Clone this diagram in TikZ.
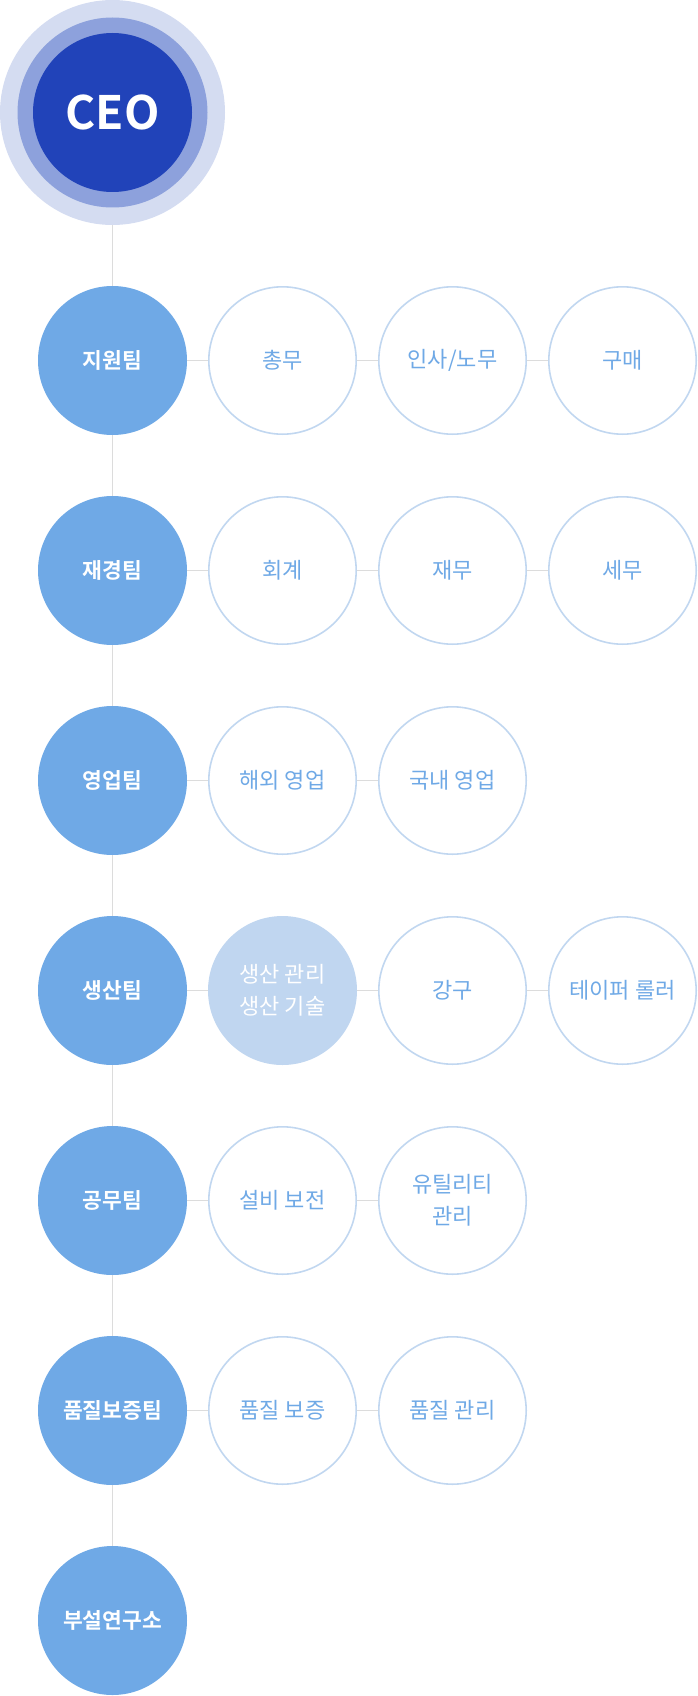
\documentclass[tikz,border=0pt]{standalone}
\usepackage{fontspec}
\setmainfont{Noto Sans CJK KR}
\newfontfamily\krbold{Noto Sans CJK KR Bold}
\definecolor{ringA}{HTML}{D4DCF1}
\definecolor{ringB}{HTML}{8DA1DC}
\definecolor{ceoblue}{HTML}{2143B9}
\definecolor{teamblue}{HTML}{6FA9E6}
\definecolor{subborder}{HTML}{C1D7F0}
\definecolor{subtext}{HTML}{6FA9E6}
\definecolor{hifill}{HTML}{C0D6F0}
\definecolor{linegray}{HTML}{DCDCDC}
\begin{document}
\begin{tikzpicture}[x=1pt,y=-1pt,
  team/.style={circle,fill=teamblue,minimum size=149pt,inner sep=0pt,text=white,font=\krbold\fontsize{21.5}{26}\selectfont,align=center},
  sub/.style={circle,draw=subborder,line width=1.6pt,fill=white,minimum size=147.4pt,inner sep=0pt,text=subtext,font=\fontsize{22}{32}\selectfont,align=center},
  subhi/.style={circle,fill=hifill,minimum size=149pt,inner sep=0pt,text=white,font=\fontsize{22}{32}\selectfont,align=center},
  conn/.style={draw=linegray,line width=1.8pt}]
\useasboundingbox (0,0) rectangle (698,1696);
% CEO
\node[circle,fill=ringA,minimum size=225pt,inner sep=0pt] (ceoring) at (112.5,112.5) {};
\fill[ringB] (112.5,112.5) circle (95);
\node[circle,fill=ceoblue,minimum size=159pt,inner sep=0pt,text=white,font=\krbold\fontsize{46}{50}\selectfont] (ceo) at (112.5,112.5) {CEO};
% teams
\node[team] (t1) at (112.5,360.5) {지원팀};
\node[team] (t2) at (112.5,570.5) {재경팀};
\node[team] (t3) at (112.5,780.5) {영업팀};
\node[team] (t4) at (112.5,990.5) {생산팀};
\node[team] (t5) at (112.5,1200.5) {공무팀};
\node[team] (t6) at (112.5,1410.5) {품질보증팀};
\node[team] (t7) at (112.5,1620.5) {부설연구소};
% subs
\node[sub] (s11) at (282.5,360.5) {총무};
\node[sub] (s12) at (452.5,360.5) {인사/노무};
\node[sub] (s13) at (622.5,360.5) {구매};
\node[sub] (s21) at (282.5,570.5) {회계};
\node[sub] (s22) at (452.5,570.5) {재무};
\node[sub] (s23) at (622.5,570.5) {세무};
\node[sub] (s31) at (282.5,780.5) {해외 영업};
\node[sub] (s32) at (452.5,780.5) {국내 영업};
\node[subhi] (s41) at (282.5,990.5) {생산 관리\\생산 기술};
\node[sub] (s42) at (452.5,990.5) {강구};
\node[sub] (s43) at (622.5,990.5) {테이퍼 롤러};
\node[sub] (s51) at (282.5,1200.5) {설비 보전};
\node[sub] (s52) at (452.5,1200.5) {유틸리티\\관리};
\node[sub] (s61) at (282.5,1410.5) {품질 보증};
\node[sub] (s62) at (452.5,1410.5) {품질 관리};
% connectors
\draw[conn] (ceoring) -- (t1);
\draw[conn] (t1) -- (t2);
\draw[conn] (t2) -- (t3);
\draw[conn] (t3) -- (t4);
\draw[conn] (t4) -- (t5);
\draw[conn] (t5) -- (t6);
\draw[conn] (t6) -- (t7);
\draw[conn] (t1) -- (s11);
\draw[conn] (s11) -- (s12);
\draw[conn] (s12) -- (s13);
\draw[conn] (t2) -- (s21);
\draw[conn] (s21) -- (s22);
\draw[conn] (s22) -- (s23);
\draw[conn] (t3) -- (s31);
\draw[conn] (s31) -- (s32);
\draw[conn] (t4) -- (s41);
\draw[conn] (s41) -- (s42);
\draw[conn] (s42) -- (s43);
\draw[conn] (t5) -- (s51);
\draw[conn] (s51) -- (s52);
\draw[conn] (t6) -- (s61);
\draw[conn] (s61) -- (s62);
\end{tikzpicture}
\end{document}
